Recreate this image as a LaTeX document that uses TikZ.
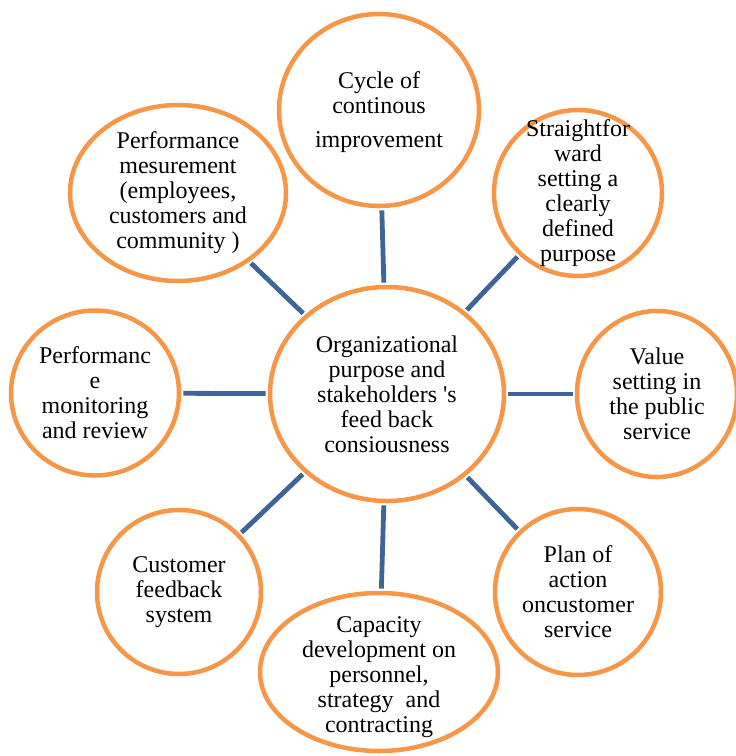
\documentclass[tikz,border=0pt]{standalone}
\usepackage{fontspec}
\setmainfont{Liberation Serif}
\usepackage{tikz}
\usetikzlibrary{shapes.geometric}
\definecolor{ringorange}{HTML}{F79646}
\definecolor{spokeblue}{HTML}{3F6598}

\begin{document}
\begin{tikzpicture}[x=1pt, y=-1pt]
    % Define styles
    \tikzstyle{bubble} = [ellipse, draw=ringorange, line width=4.5pt, fill=white, inner sep=0pt]
    \tikzstyle{caption} = [align=center, font=\fontsize{24}{25}\selectfont, inner sep=0pt]
    \tikzstyle{spoke} = [draw=spokeblue, line width=4.8pt, shorten <=2.2pt, shorten >=2.2pt]

    \useasboundingbox (0,0) rectangle (736,756);

    % Place nodes
    \node [bubble, minimum width=234pt, minimum height=214pt,
        label={[caption]center:{Organizational\\purpose and\\stakeholders \textquotesingle s\\feed back\\consiousness}}] (core) at (387,394) {};
    \node [bubble, minimum width=200pt, minimum height=192pt,
        label={[caption, yshift=-2pt]center:{Cycle of\\continous\\[9pt]improvement}}] (cycle) at (379,110) {};
    \node [bubble, minimum width=168pt, minimum height=166pt,
        label={[caption]center:{Straightfor\\ward\\setting a\\clearly\\defined\\purpose}}] (purpose) at (578,193) {};
    \node [bubble, minimum width=216pt, minimum height=176pt,
        label={[caption]center:{Performance\\mesurement\\(employees,\\customers and\\community )}}] (measure) at (178,193) {};
    \node [bubble, minimum width=168pt, minimum height=165pt,
        label={[caption]center:{Performanc\\e\\monitoring\\and review}}] (monitor) at (95,393) {};
    \node [bubble, minimum width=160pt, minimum height=166pt,
        label={[caption]center:{Value\\setting in\\the public\\service}}] (value) at (657,394) {};
    \node [bubble, minimum width=166pt, minimum height=166pt,
        label={[caption]center:{Plan of\\action\\oncustomer\\service}}] (plan) at (578,592) {};
    \node [bubble, minimum width=164pt, minimum height=164pt,
        label={[caption]center:{Customer\\feedback\\system}}] (feedback) at (179,592) {};
    \node [bubble, minimum width=238pt, minimum height=158pt,
        label={[caption, yshift=-5pt]center:{Capacity\\development on\\personnel,\\strategy~ and\\contracting}}] (capacity) at (379,672) {};

    % Draw edges
    \path [spoke] (core) -- (cycle);
    \path [spoke] (core) -- (purpose);
    \path [spoke] (core) -- (measure);
    \path [spoke] (core) -- (monitor);
    \path [spoke] (core) -- (value);
    \path [spoke] (core) -- (plan);
    \path [spoke] (core) -- (feedback);
    \path [spoke] (core) -- (capacity);

\end{tikzpicture}
\end{document}
